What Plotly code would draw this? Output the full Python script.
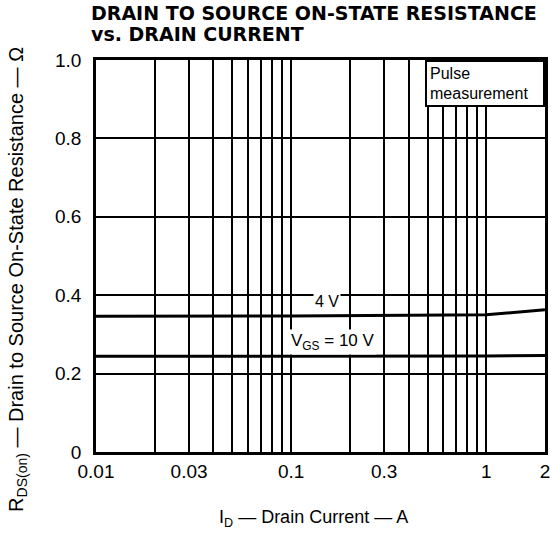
import plotly.graph_objects as go

# Drain current [A] and on-state resistance [ohm] for each gate voltage
id_4v = [0.01, 0.1, 1.0, 2.0]
rds_4v = [0.346, 0.347, 0.350, 0.363]
id_10v = [0.01, 0.1, 1.0, 2.0]
rds_10v = [0.244, 0.244, 0.245, 0.246]

x_ticks = [0.01, 0.03, 0.1, 0.3, 1, 2]
x_labels = ['0.01', '0.03', '0.1', '0.3', '1', '2']
x_grid = [0.02, 0.03, 0.04, 0.05, 0.06, 0.07, 0.08, 0.09,
          0.1, 0.2, 0.3, 0.4, 0.5, 0.6, 0.7, 0.8, 0.9, 1]
y_ticks = [0, 0.2, 0.4, 0.6, 0.8, 1.0]
y_labels = ['0', '0.2', '0.4', '0.6', '0.8', '1.0']

font = 'Liberation Sans, Arial, sans-serif'
bold_font = 'DejaVu Sans, sans-serif'

fig = go.Figure()

line_style = {'color': 'black', 'width': 3}
fig.add_trace(go.Scatter(x=id_4v, y=rds_4v, mode='lines', line=line_style))
fig.add_trace(go.Scatter(x=id_10v, y=rds_10v, mode='lines', line=line_style))

# Vertical grid lines drawn as minor ticks so labels stay sparse
fig.update_xaxes(
    type='log', range=[-2, 0.30103],
    tickvals=x_ticks, ticktext=x_labels, showgrid=False,
    minor={'tickvals': x_grid, 'showgrid': True, 'gridcolor': 'black',
           'gridwidth': 2, 'ticks': ''},
    showline=True, linewidth=2.5, linecolor='black', mirror=True,
    ticks='', zeroline=False, automargin=False,
    ticklabeloverflow='allow',
    tickfont={'size': 19, 'color': 'black', 'family': font},
)
fig.update_yaxes(
    range=[0, 1.0], tickvals=y_ticks, ticktext=y_labels,
    showgrid=True, gridcolor='black', gridwidth=1.5,
    showline=True, linewidth=2.5, linecolor='black', mirror=True,
    ticks='', zeroline=False, automargin=False, ticklabelstandoff=8,
    tickfont={'size': 19, 'color': 'black', 'family': font},
)

# Axis titles (placed by hand, the reference is not centred on the plot)
fig.add_annotation(x=-0.1737, y=0.439, xref='paper', yref='paper',
                   xanchor='center', yanchor='middle',
                   text='R<sub>DS(on)</sub> \u2014 Drain to Source On-State '
                        'Resistance \u2014 \u03a9',
                   textangle=-90, showarrow=False,
                   font={'size': 20, 'color': 'black', 'family': font})
fig.add_annotation(x=0.4833, y=-0.1684, xref='paper', yref='paper',
                   xanchor='center', yanchor='middle',
                   text='I<sub>D</sub> \u2014 Drain Current \u2014 A',
                   showarrow=False,
                   font={'size': 18, 'color': 'black', 'family': font})

# Chart title, two lines
fig.add_annotation(x=-0.0156, y=1.12, xref='paper', yref='paper',
                   xanchor='left', yanchor='middle', showarrow=False,
                   text='<b>DRAIN TO SOURCE ON-STATE RESISTANCE</b>',
                   font={'size': 19, 'color': 'black', 'family': bold_font})
fig.add_annotation(x=-0.0156, y=1.066, xref='paper', yref='paper',
                   xanchor='left', yanchor='middle', showarrow=False,
                   text='<b>vs. DRAIN CURRENT</b>',
                   font={'size': 19, 'color': 'black', 'family': bold_font})

# Curve labels
fig.add_annotation(x=-0.816, y=0.383, xref='x', yref='y', text='4 V',
                   showarrow=False, bgcolor='white',
                   font={'size': 16, 'color': 'black', 'family': font})
fig.add_annotation(x=-0.785, y=0.281, xref='x', yref='y',
                   text='V<sub>GS</sub> = 10 V',
                   showarrow=False, bgcolor='white',
                   font={'size': 17, 'color': 'black', 'family': font})

# Measurement condition box
fig.add_annotation(x=1, y=1, xref='paper', yref='paper',
                   xanchor='right', yanchor='top', align='left',
                   width=110, height=37,
                   text='Pulse<br>measurement', showarrow=False,
                   bgcolor='white', bordercolor='black', borderwidth=2,
                   borderpad=3,
                   font={'size': 16, 'color': 'black', 'family': font})

fig.update_layout(
    width=552, height=535,
    margin={'l': 96, 'r': 7, 't': 60, 'b': 83, 'autoexpand': False},
    plot_bgcolor='white', paper_bgcolor='white',
    showlegend=False,
)

# Drop the default page margin so the figure sits at the window corner
fig.write_html('out.html', config={'displayModeBar': False},
               post_script="document.body.style.margin = '0';")
